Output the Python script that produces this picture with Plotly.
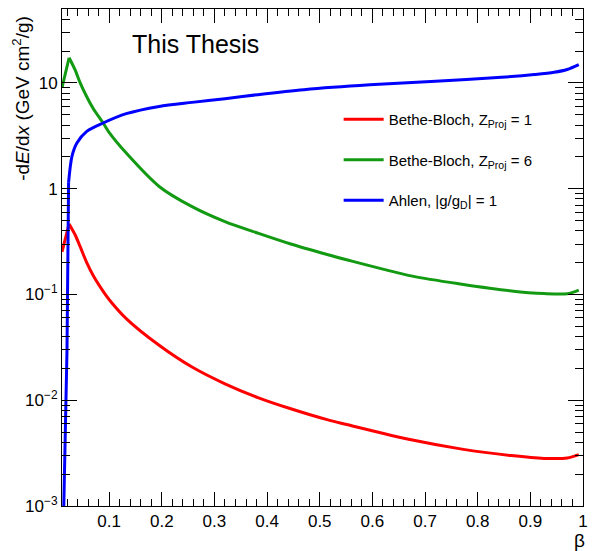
import plotly.graph_objects as go

# Bethe-Bloch curves (beta, dE/dx): rising part below the peak, falling part above it
beta_bb_rise = [0.0105, 0.024]
bb_z1_rise = [0.253, 0.464]
bb_z6_rise = [9.0, 17.3]

beta_bb = [0.024, 0.0356, 0.045, 0.0575, 0.070, 0.0887, 0.101, 0.1325, 0.195,
           0.2575, 0.32, 0.3825, 0.445, 0.514, 0.551, 0.676, 0.77, 0.864, 0.926, 0.97, 0.992]
bb_z1 = [0.464, 0.365, 0.283, 0.200, 0.150, 0.107, 0.0883, 0.0592, 0.0331,
         0.0206, 0.0143, 0.0106, 0.0083, 0.00655, 0.0059, 0.0042, 0.00345, 0.0030, 0.00282, 0.00284, 0.00306]
bb_z6 = [17.3, 13.2, 10.0, 7.4, 5.7, 4.18, 3.35, 2.17, 1.05,
         0.676, 0.488, 0.38, 0.30, 0.239, 0.213, 0.149, 0.125, 0.108, 0.102, 0.1015, 0.110]

# Ahlen (monopole) curve: steep onset, then slow rise
beta_ahlen_onset = [0.0135, 0.016, 0.019, 0.020, 0.021, 0.022, 0.023]
ahlen_onset = [0.0008, 0.003, 0.01, 0.03, 0.1, 0.3, 1.15]
beta_ahlen = [0.023, 0.0294, 0.0388, 0.0575, 0.0887, 0.1325, 0.195, 0.2575, 0.32, 0.3825,
              0.47, 0.595, 0.72, 0.845, 0.9075, 0.945, 0.97, 0.992]
ahlen = [1.15, 2.02, 2.70, 3.48, 4.18, 5.12, 6.0, 6.55, 7.1, 7.75,
         8.64, 9.6, 10.36, 11.3, 12.0, 12.6, 13.4, 14.9]

x_ticks = [0.1, 0.2, 0.3, 0.4, 0.5, 0.6, 0.7, 0.8, 0.9, 1.0]
x_ticktext = ["0.1", "0.2", "0.3", "0.4", "0.5", "0.6", "0.7", "0.8", "0.9", "1"]
y_ticks = [0.001, 0.01, 0.1, 1, 10]
y_ticktext = ["10<sup>−3</sup>", "10<sup>−2</sup>", "10<sup>−1</sup>", "1", "10"]

x_minor = [round(0.02 * i, 2) for i in range(1, 50) if i % 5 != 0]
y_minor = [m * 10 ** e for e in range(-3, 2) for m in range(2, 10)]

FONT = "Liberation Sans, Arial, Helvetica, sans-serif"
RED, GREEN, BLUE = "#ff0000", "#139a13", "#0000ff"

fig = go.Figure()
fig.add_trace(go.Scatter(x=beta_bb, y=bb_z1, mode="lines",
                         line=dict(color=RED, width=3, shape="spline", smoothing=0.8),
                         name="Bethe-Bloch, Z<sub>Proj</sub> = 1", legendgroup="a"))
fig.add_trace(go.Scatter(x=beta_bb_rise, y=bb_z1_rise, mode="lines", line=dict(color=RED, width=3),
                         legendgroup="a", showlegend=False))
fig.add_trace(go.Scatter(x=beta_bb, y=bb_z6, mode="lines",
                         line=dict(color=GREEN, width=3, shape="spline", smoothing=0.8),
                         name="Bethe-Bloch, Z<sub>Proj</sub> = 6", legendgroup="b"))
fig.add_trace(go.Scatter(x=beta_bb_rise, y=bb_z6_rise, mode="lines", line=dict(color=GREEN, width=3),
                         legendgroup="b", showlegend=False))
fig.add_trace(go.Scatter(x=beta_ahlen, y=ahlen, mode="lines",
                         line=dict(color=BLUE, width=3, shape="spline", smoothing=0.8),
                         name="Ahlen, |g/g<sub>D</sub>| = 1", legendgroup="c"))
fig.add_trace(go.Scatter(x=beta_ahlen_onset, y=ahlen_onset, mode="lines", line=dict(color=BLUE, width=3),
                         legendgroup="c", showlegend=False))

axis_common = dict(ticks="inside", tickcolor="black", tickwidth=1,
                   showline=True, linecolor="black", linewidth=1, mirror="allticks",
                   showgrid=False, zeroline=False, tickfont=dict(size=17, family=FONT))

fig.update_layout(
    width=593, height=551,
    margin=dict(l=62, r=5, t=9, b=45),
    paper_bgcolor="white", plot_bgcolor="white",
    font=dict(family=FONT, color="black"),
    showlegend=True,
    legend=dict(x=0.531, y=0.811, xanchor="left", yanchor="top",
                font=dict(size=15, family=FONT), bgcolor="rgba(0,0,0,0)",
                tracegroupgap=18, traceorder="grouped", itemwidth=40),
    xaxis=dict(range=[0.0105, 1.0], tickmode="array", tickvals=x_ticks, ticktext=x_ticktext,
               ticklen=14,
               minor=dict(tickmode="array", tickvals=x_minor, ticks="inside", ticklen=7,
                          tickcolor="black", showgrid=False),
               **axis_common),
    yaxis=dict(type="log", range=[-3, 1.699], tickmode="array", tickvals=y_ticks, ticktext=y_ticktext,
               ticklen=15,
               minor=dict(tickmode="array", tickvals=y_minor, ticks="inside", ticklen=8,
                          tickcolor="black", showgrid=False),
               **axis_common),
    annotations=[
        dict(text="This Thesis", x=0.256, y=0.9295, xref="paper", yref="paper",
             xanchor="center", yanchor="middle", showarrow=False,
             font=dict(size=25, family=FONT, color="black")),
        dict(text="-d<i>E</i>/d<i>x</i> (GeV cm<sup>2</sup>/g)", x=-0.078, y=0.82,
             xref="paper", yref="paper", xanchor="center", yanchor="middle",
             textangle=-90, showarrow=False, font=dict(size=19, family=FONT, color="black")),
        dict(text="β", x=0.993, y=-0.069, xref="paper", yref="paper",
             xanchor="center", yanchor="middle", showarrow=False,
             font=dict(size=19, family=FONT, color="black")),
    ],
)

fig.write_html("out.html")
